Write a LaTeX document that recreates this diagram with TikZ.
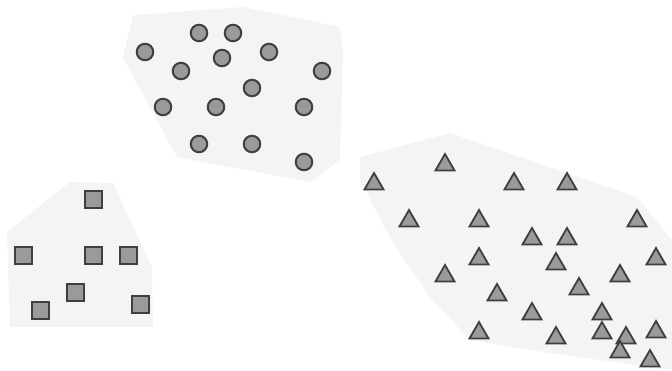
\documentclass[tikz,border=0pt]{standalone}
\usetikzlibrary{shapes.geometric}
\definecolor{blobgray}{HTML}{F4F4F4}
\definecolor{markfill}{HTML}{9A9A9A}
\definecolor{markedge}{HTML}{3F3F3F}
\tikzset{
  blob/.style={fill=blobgray, draw=none},
  dot/.style={circle, fill=markfill, draw=markedge, line width=2pt, minimum size=16.5pt, inner sep=0pt},
  sq/.style={rectangle, fill=markfill, draw=markedge, line width=2pt, minimum size=17pt, inner sep=0pt},
  tri/.style={regular polygon, regular polygon sides=3, fill=markfill, draw=markedge, line width=1.8pt, minimum size=22pt, inner sep=0pt}
}
\begin{document}
\begin{tikzpicture}[x=1pt,y=-1pt]
\useasboundingbox (0,0) rectangle (672,370);
% background blobs
\fill[blob] (133,15) -- (243,7) -- (340,27) -- (343,53) -- (340,160) -- (310,182) -- (177,157) -- (123,58) -- cycle;
\fill[blob] (70,182) -- (113,183) -- (152,267) -- (153,327) -- (10,327) -- (7,232) -- cycle;
\fill[blob] (360,157) -- (450,133) -- (637,197) -- (672,240) -- (672,370) -- (550,353) -- (470,340) -- (430,297) -- (393,243) -- (360,180) -- cycle;
% circles
\foreach \x/\y [count=\i] in {199/33,233/33,145/52,222/58,269/52,181/71,322/71,252/88,163/107,216/107,304/107,199/144,252/144,304/162}
  \node[dot] (c\i) at (\x,\y) {};
% squares
\foreach \x/\y [count=\i] in {93/199,23/255,93/255,128/255,75/292,40/310,140/304}
  \node[sq] (s\i) at (\x,\y) {};
% triangles
\foreach \x/\y [count=\i] in {445/165,374/184,514/184,567/184,409/221,479/221,637/221,532/239,567/239,479/259,556/264,656/259,445/276,620/276,579/289,497/295,532/314,602/314,479/333,556/338,602/333,626/338,656/332,620/352,650/361}
  \node[tri] (t\i) at (\x,\y) {};
\end{tikzpicture}
\end{document}
